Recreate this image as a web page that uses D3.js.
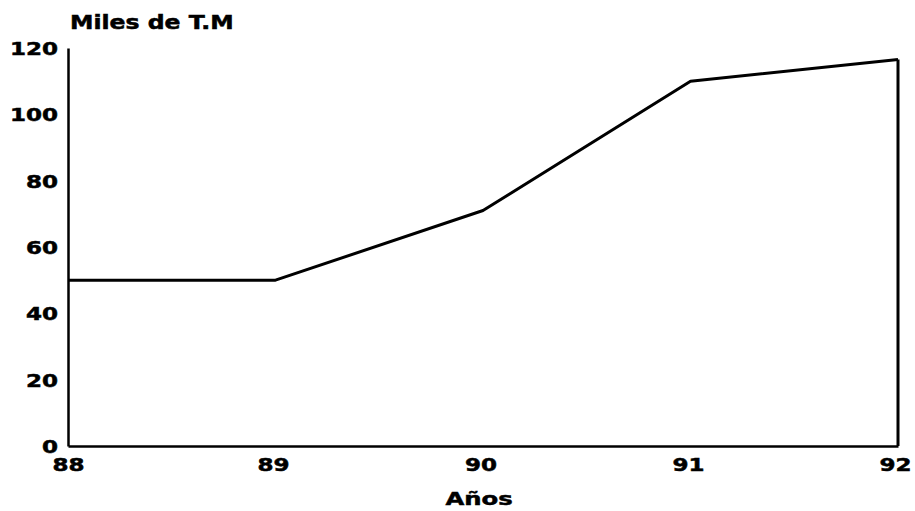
<!DOCTYPE html>
<html><head><meta charset="utf-8">
<script src="https://cdn.jsdelivr.net/npm/d3@7"></script>
<style>body{margin:0;background:#fff}text{font-family:"DejaVu Sans",sans-serif;font-weight:bold;fill:#000;stroke:#000;stroke-width:0.5px}</style>
</head><body><svg id="c" width="915" height="511"></svg>
<script>
const years = ["88","89","90","91","92"];
const values = [50, 50, 71, 110, 116.5];
const yTicks = [0,20,40,60,80,100,120];

const svg = d3.select("#c");
const m = {l:68, r:17, t:48, b:65};
const W = 915, H = 511;
const SX = 1.28;
const x = d3.scalePoint().domain(years).range([m.l, W - m.r]);
const y = d3.scaleLinear().domain([0,120]).range([H - m.b, m.t]);

function stretch(sel, sx){
  sel.each(function(){
    const t = d3.select(this);
    const tx = +t.attr("x") || 0, ty = +t.attr("y") || 0;
    t.attr("x", null).attr("y", null).attr("transform", `translate(${tx},${ty}) scale(${sx},1)`);
  });
}

const yAxis = svg.append("g").attr("transform",`translate(${m.l},0)`)
  .call(d3.axisLeft(y).tickValues(yTicks).tickSize(0).tickPadding(10));
yAxis.select(".domain").attr("stroke","#000").attr("stroke-width",2.5);
yAxis.selectAll("text").style("font-size","18px").attr("dy","0.36em");
stretch(yAxis.selectAll("text"), SX);

const xAxis = svg.append("g").attr("transform",`translate(0,${H - m.b})`)
  .call(d3.axisBottom(x).tickSize(0).tickPadding(12));
xAxis.select(".domain").attr("stroke","#000").attr("stroke-width",2.5);
xAxis.selectAll("text").style("font-size","18px");
xAxis.selectAll(".tick text").attr("x", (d,i) => i === years.length - 1 ? -3 : (i === 0 ? 0 : -2.5));
stretch(xAxis.selectAll("text"), SX);

const line = d3.line().x((d,i)=>x(years[i])).y(d=>y(d));
svg.append("path").datum(values).attr("d", line)
  .attr("fill","none").attr("stroke","#000").attr("stroke-width",3).attr("stroke-linejoin","round");
const last = years.length - 1;
svg.append("line").attr("x1",x(years[last])).attr("x2",x(years[last]))
  .attr("y1",y(values[last])).attr("y2",y(0)).attr("stroke","#000").attr("stroke-width",3);

const title = svg.append("text").attr("x",70).attr("y",29).style("font-size","19px").text("Miles de T.M");
stretch(title, 1.24);
const xl = svg.append("text").attr("x",479).attr("y",505).attr("text-anchor","middle")
  .style("font-size","18px").text("Años");
stretch(xl, 1.35);
</script></body></html>
